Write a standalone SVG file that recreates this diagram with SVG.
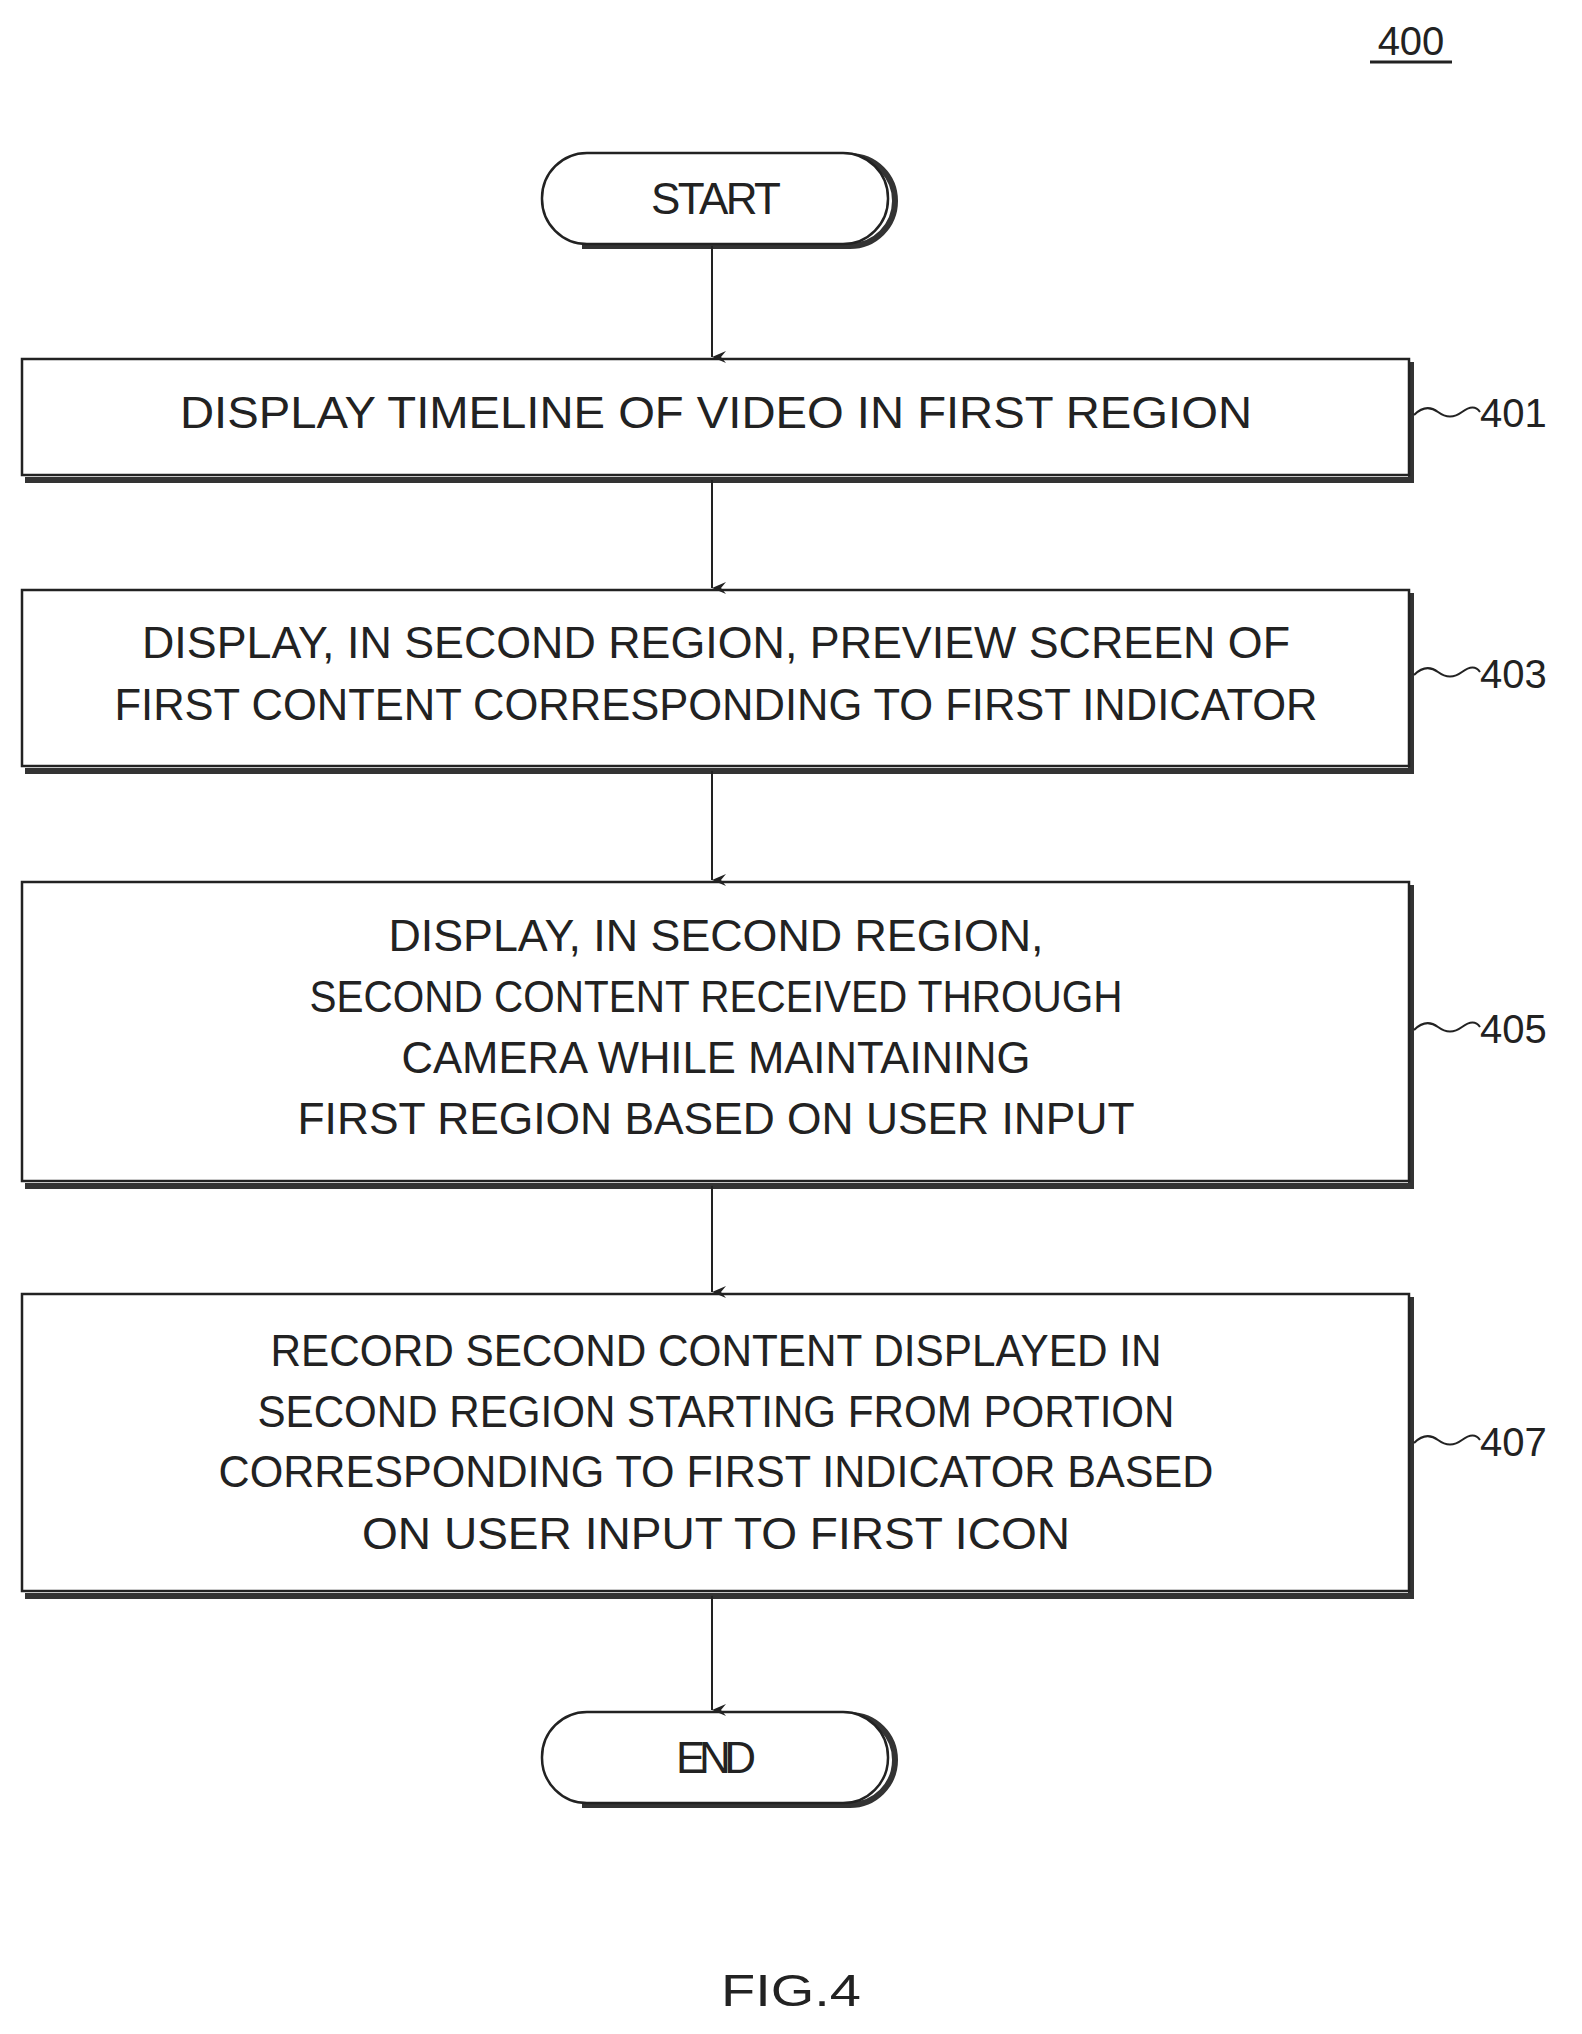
<svg xmlns="http://www.w3.org/2000/svg" width="1582" height="2034" viewBox="0 0 1582 2034">
<style>
.b{fill:#fff;stroke:#222;stroke-width:2.5}
.s{fill:none;stroke:#333;stroke-width:6}
.t{font-family:"Liberation Sans",Arial,sans-serif;font-size:44px;fill:#222;text-anchor:middle;lengthAdjust:spacingAndGlyphs}
.l{font-family:"Liberation Sans",Arial,sans-serif;font-size:40px;fill:#222}
.c{fill:none;stroke:#222;stroke-width:2}
</style>
<defs><marker id="a" markerWidth="12" markerHeight="14" refX="6" refY="14" orient="auto" markerUnits="userSpaceOnUse"><path d="M0,0 L6,14 L12,0 L6,5 Z" fill="#222"/></marker></defs>
<rect width="1582" height="2034" fill="#fff"/>
<text class="l" x="1411" y="55" text-anchor="middle">400</text>
<line x1="1370" y1="62" x2="1452" y2="62" stroke="#222" stroke-width="3"/>
<g id="start"><path class="s" d="M850,156 A44,44 0 0 1 850,246 L582,246"/><rect class="b" x="542" y="153" width="346" height="91" rx="45"/><text class="t" x="716" y="214" textLength="130">START</text></g>
<g id="n401"><path class="s" d="M1411,362 V480 H25"/><rect class="b" x="22" y="359" width="1387" height="116"/><text class="t" x="716" y="428" textLength="1072" lengthAdjust="spacingAndGlyphs">DISPLAY TIMELINE OF VIDEO IN FIRST REGION</text></g>
<g id="n403"><path class="s" d="M1411,593 V771 H25"/><rect class="b" x="22" y="590" width="1387" height="176"/><text class="t" x="716" y="658" textLength="1148" lengthAdjust="spacingAndGlyphs">DISPLAY, IN SECOND REGION, PREVIEW SCREEN OF</text><text class="t" x="716" y="720" textLength="1203" lengthAdjust="spacingAndGlyphs">FIRST CONTENT CORRESPONDING TO FIRST INDICATOR</text></g>
<g id="n405"><path class="s" d="M1411,885 V1186 H25"/><rect class="b" x="22" y="882" width="1387" height="299"/><text class="t" x="716" y="951" textLength="655" lengthAdjust="spacingAndGlyphs">DISPLAY, IN SECOND REGION,</text><text class="t" x="716" y="1012" textLength="813" lengthAdjust="spacingAndGlyphs">SECOND CONTENT RECEIVED THROUGH</text><text class="t" x="716" y="1073" textLength="629" lengthAdjust="spacingAndGlyphs">CAMERA WHILE MAINTAINING</text><text class="t" x="716" y="1134" textLength="837" lengthAdjust="spacingAndGlyphs">FIRST REGION BASED ON USER INPUT</text></g>
<g id="n407"><path class="s" d="M1411,1297 V1596 H25"/><rect class="b" x="22" y="1294" width="1387" height="297"/><text class="t" x="716" y="1366" textLength="891" lengthAdjust="spacingAndGlyphs">RECORD SECOND CONTENT DISPLAYED IN</text><text class="t" x="716" y="1427" textLength="917" lengthAdjust="spacingAndGlyphs">SECOND REGION STARTING FROM PORTION</text><text class="t" x="716" y="1487" textLength="995" lengthAdjust="spacingAndGlyphs">CORRESPONDING TO FIRST INDICATOR BASED</text><text class="t" x="716" y="1549" textLength="708" lengthAdjust="spacingAndGlyphs">ON USER INPUT TO FIRST ICON</text></g>
<g id="end"><path class="s" d="M850,1715 A44,44 0 0 1 850,1805 L582,1805"/><rect class="b" x="542" y="1712" width="346" height="91" rx="45"/><text class="t" x="716" y="1773" textLength="80">END</text></g>
<g id="connectors">
<line class="c" x1="712" y1="246" x2="712" y2="357" marker-end="url(#a)"/>
<line class="c" x1="712" y1="480" x2="712" y2="588" marker-end="url(#a)"/>
<line class="c" x1="712" y1="771" x2="712" y2="880" marker-end="url(#a)"/>
<line class="c" x1="712" y1="1186" x2="712" y2="1292" marker-end="url(#a)"/>
<line class="c" x1="712" y1="1596" x2="712" y2="1710" marker-end="url(#a)"/>
<path class="c" d="M1414,415 q12,-12 24,-3 t24,0 t18,0"/>
<path class="c" d="M1414,675 q12,-12 24,-3 t24,0 t18,0"/>
<path class="c" d="M1414,1030 q12,-12 24,-3 t24,0 t18,0"/>
<path class="c" d="M1414,1443 q12,-12 24,-3 t24,0 t18,0"/>
</g>
<text class="l" x="1480" y="427">401</text>
<text class="l" x="1480" y="688">403</text>
<text class="l" x="1480" y="1043">405</text>
<text class="l" x="1480" y="1456">407</text>
<text class="t" x="791" y="2006" textLength="140" lengthAdjust="spacingAndGlyphs">FIG.4</text>
</svg>
